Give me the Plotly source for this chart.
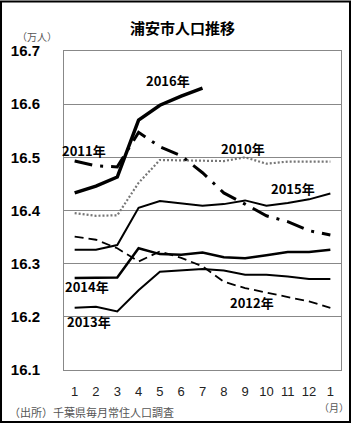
import plotly.graph_objects as go

months = ["1", "2", "3", "4", "5", "6", "7", "8", "9", "10", "11", "12", "1"]
x_idx = list(range(len(months)))

y2010 = [16.395, 16.390, 16.391, 16.452, 16.495, 16.494, 16.493, 16.493, 16.500, 16.488, 16.492, 16.492, 16.492]
y2011 = [16.493, 16.484, 16.482, 16.547, 16.520, 16.503, 16.471, 16.433, 16.412, 16.390, 16.379, 16.362, 16.354]
y2012 = [16.351, 16.345, 16.329, 16.304, 16.323, 16.311, 16.295, 16.266, 16.254, 16.246, 16.238, 16.229, 16.217]
y2013 = [16.217, 16.219, 16.210, 16.250, 16.285, 16.288, 16.290, 16.287, 16.279, 16.279, 16.276, 16.271, 16.271]
y2014 = [16.273, 16.274, 16.274, 16.329, 16.318, 16.317, 16.321, 16.312, 16.310, 16.316, 16.322, 16.322, 16.326]
y2015 = [16.326, 16.326, 16.335, 16.405, 16.418, 16.414, 16.409, 16.412, 16.419, 16.409, 16.414, 16.421, 16.432]
y2016 = [16.433, 16.446, 16.463, 16.570, 16.598, 16.615, 16.630]

y_ticks = [16.1, 16.2, 16.3, 16.4, 16.5, 16.6, 16.7]

series = [
    ("2010年", y2010, dict(color="#777777", width=2.2, dash="2px,2px")),
    ("2011年", y2011, dict(color="#000000", width=3, dash="18px,8px,3px,8px")),
    ("2012年", y2012, dict(color="#000000", width=1.8, dash="9px,5px")),
    ("2013年", y2013, dict(color="#000000", width=2, dash="solid")),
    ("2014年", y2014, dict(color="#000000", width=2.5, dash="solid")),
    ("2015年", y2015, dict(color="#000000", width=2, dash="solid")),
    ("2016年", y2016, dict(color="#000000", width=3.5, dash="solid")),
]

fig = go.Figure()
for name, ys, ln in series:
    fig.add_trace(go.Scatter(x=x_idx[:len(ys)], y=ys, mode="lines", name=name, line=ln, showlegend=False))

label_pos = {
    "2016年": (4.38, 16.644),
    "2011年": (0.44, 16.513),
    "2010年": (7.90, 16.517),
    "2015年": (10.25, 16.442),
    "2014年": (0.57, 16.257),
    "2013年": (0.67, 16.191),
    "2012年": (8.31, 16.227),
}
lab_font = dict(family="Noto Sans CJK JP", size=13, color="#000000", weight="bold")
for name, (lx, ly) in label_pos.items():
    fig.add_annotation(x=lx, y=ly, text=name, showarrow=False, font=lab_font, xref="x", yref="y",
                       xanchor="center", yanchor="middle")

small = dict(family="Noto Sans CJK JP", size=10, color="#555555")
fig.add_annotation(xref="paper", yref="paper", x=0.426, y=1.075, text="浦安市人口推移", showarrow=False,
                   xanchor="center", yanchor="middle",
                   font=dict(family="Noto Sans CJK JP", size=15, color="#000000", weight="bold"))
fig.add_annotation(xref="paper", yref="paper", x=-0.097, y=1.047, text="（万人）", showarrow=False,
                   xanchor="center", yanchor="middle", font=small)
fig.add_annotation(xref="paper", yref="paper", x=0.975, y=-0.117, text="（月）", showarrow=False,
                   xanchor="center", yanchor="middle", font=small)
fig.add_annotation(xref="paper", yref="paper", x=-0.205, y=-0.132, xanchor="left", yanchor="middle",
                   text="（出所）千葉県毎月常住人口調査", showarrow=False,
                   font=dict(family="Noto Sans CJK JP", size=11, color="#555555"))

fig.add_shape(type="rect", xref="paper", yref="paper", x0=-0.2274, x1=1.0325, y0=-0.163, y1=1.155,
              line=dict(color="#000000", width=2), layer="above")

fig.update_layout(
    width=354, height=425,
    margin=dict(l=64, r=13, t=51, b=55),
    paper_bgcolor="white", plot_bgcolor="white",
    xaxis=dict(range=[-0.5, 12.5], tickmode="array", tickvals=x_idx, ticktext=months,
               showgrid=False, zeroline=False, showline=True, linecolor="#888888", linewidth=1,
               mirror=True, ticks="", ticklabelstandoff=9,
               tickfont=dict(family="Liberation Sans", size=13, color="#222222")),
    yaxis=dict(range=[16.1, 16.7], tickmode="array", tickvals=y_ticks, tickformat=".1f",
               showgrid=True, gridcolor="#888888", gridwidth=1, zeroline=False,
               showline=True, linecolor="#888888", linewidth=1, mirror=True, ticks="",
               ticklabelstandoff=20,
               tickfont=dict(family="Liberation Sans", size=15, color="#000000", weight="bold")),
)

fig.write_html("out.html")
